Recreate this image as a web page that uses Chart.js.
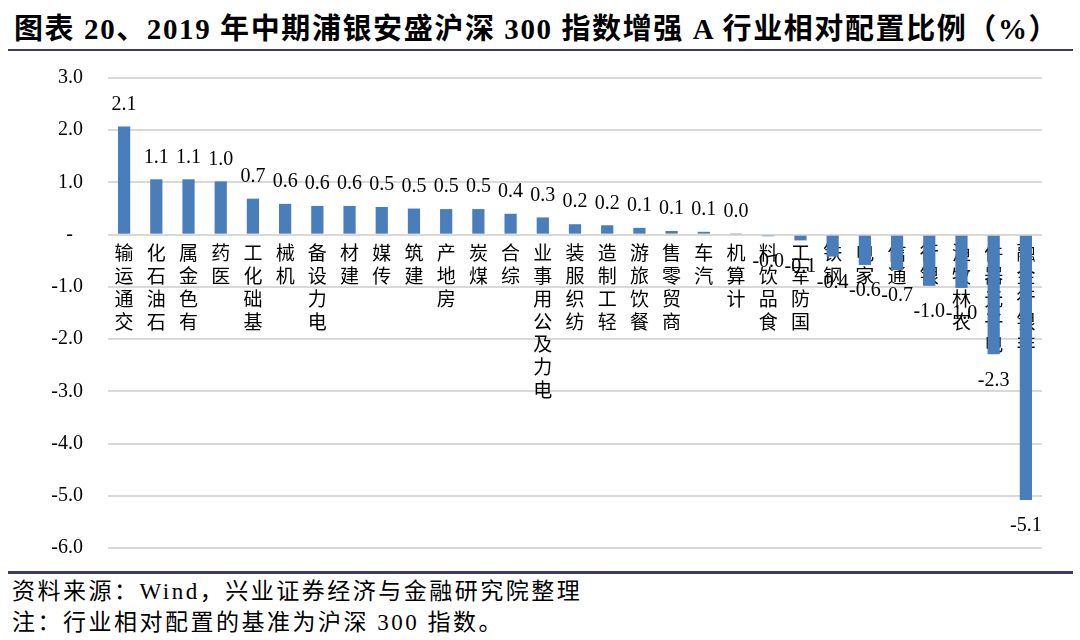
<!DOCTYPE html>
<html>
<head>
<meta charset="utf-8">
<script src="https://cdn.jsdelivr.net/npm/chart.js@4"></script>
<style>
  html, body { margin: 0; padding: 0; background: #fff; }
  body { width: 1080px; height: 640px; position: relative; overflow: hidden; }
  #title { position: absolute; left: 14px; top: 5px; font: bold 29px "Liberation Serif", "Noto Sans CJK SC", serif; color: #000; white-space: nowrap; letter-spacing: 1.6px; }
  #topline { position: absolute; left: 8px; top: 49px; width: 1065px; height: 2px; background: #3a3a6e; }
  #botline { position: absolute; left: 8px; top: 571px; width: 1065px; height: 3px; background: #3a3a6e; }
  .note { position: absolute; left: 12px; font: 23px "Liberation Serif", "Noto Sans CJK SC", serif; color: #000; white-space: nowrap; letter-spacing: 2.5px; }
  #wrap { position: absolute; left: 0; top: 61px; width: 1080px; height: 500px; }
</style>
</head>
<body>
<div id="title">图表 20、2019 年中期浦银安盛沪深 300 指数增强 A 行业相对配置比例（%）</div>
<div id="topline"></div>
<div id="wrap"><canvas id="c"></canvas></div>
<div id="botline"></div>
<div class="note" style="top:572px;">资料来源：Wind，兴业证券经济与金融研究院整理</div>
<div class="note" style="top:603px;">注：行业相对配置的基准为沪深 300 指数。</div>
<script>
const categories = ['交通运输','石油石化','有色金属','医药','基础化工','机械','电力设备','建材','传媒','建筑','房地产','煤炭','综合','电力及公用事业','纺织服装','轻工制造','餐饮旅游','商贸零售','汽车','计算机','食品饮料','国防军工','钢铁','家电','通信','银行','农林牧渔','电子元器件','非银行金融'];
const values = [2.07,1.06,1.06,1.02,0.69,0.59,0.55,0.55,0.53,0.50,0.49,0.49,0.40,0.33,0.20,0.18,0.13,0.07,0.055,0.01,-0.03,-0.11,-0.42,-0.58,-0.68,-0.98,-1.02,-2.29,-5.08];
const yTicks = [3,2,1,0,-1,-2,-3,-4,-5,-6];

const FONT_SERIF = '"Liberation Serif", "Noto Sans CJK SC", serif';

const valueLabels = {
  id: 'valueLabels',
  afterDatasetsDraw(chart) {
    const ctx = chart.ctx;
    const meta = chart.getDatasetMeta(0);
    ctx.save();
    ctx.font = '20px ' + FONT_SERIF;
    ctx.fillStyle = '#000';
    ctx.textAlign = 'center';
    ctx.textBaseline = 'middle';
    meta.data.forEach((bar, i) => {
      const v = values[i];
      const txt = v.toFixed(1);
      const y = v >= 0 ? bar.y - 22 : bar.y + 26;
      ctx.fillText(txt, bar.x, y);
    });
    ctx.restore();
  }
};

new Chart(document.getElementById('c'), {
  type: 'bar',
  data: {
    // text reads bottom-to-top: last character sits right under the axis
    labels: categories.map(s => s.split('').reverse()),
    datasets: [{
      data: values,
      backgroundColor: '#4a7ebb',
      borderWidth: 0,
      categoryPercentage: 1,
      barPercentage: 0.38
    }]
  },
  options: {
    responsive: true,
    maintainAspectRatio: false,
    animation: false,
    layout: { padding: { left: 0, right: 38, top: 17, bottom: 13 } },
    plugins: { legend: { display: false }, tooltip: { enabled: false } },
    scales: {
      x: {
        position: { y: 0 },
        z: 1,
        grid: { display: false, drawTicks: false },
        border: { display: false },
        ticks: {
          autoSkip: false,
          maxRotation: 0,
          minRotation: 0,
          padding: 7,
          color: '#000',
          font: { family: '"Noto Sans CJK SC", sans-serif', size: 19, lineHeight: 1.2 }
        }
      },
      y: {
        min: -6,
        max: 3,
        afterFit(scale) { scale.width = 108; scale.paddingTop = 4; scale.paddingBottom = 4; },
        afterBuildTicks(scale) { scale.ticks = yTicks.map(v => ({ value: v })); },
        grid: { color: '#d9d9d9', lineWidth: 2, drawTicks: false },
        border: { display: false },
        ticks: {
          padding: 25,
          color: '#000',
          font: { family: FONT_SERIF, size: 20 },
          callback: (v) => v === 0 ? '-  ' : Number(v).toFixed(1)
        }
      }
    }
  },
  plugins: [valueLabels]
});
</script>
</body>
</html>
